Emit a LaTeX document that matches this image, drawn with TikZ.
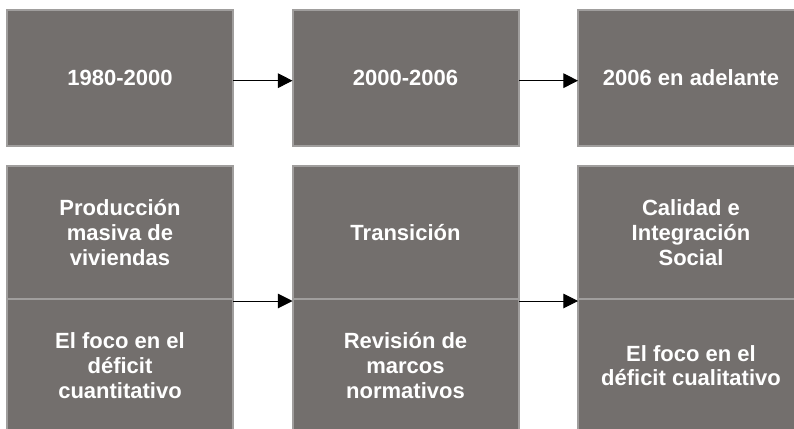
\documentclass[tikz,border=0pt]{standalone}
\usepackage{fontspec}
\setmainfont{Liberation Sans}
\usepackage{tikz}
\usetikzlibrary{arrows.meta,positioning}
\tikzset{>={Triangle[width=11pt,length=11pt]}}

\definecolor{boxgray}{RGB}{115,111,109}
\definecolor{edgegray}{RGB}{160,158,157}

\tikzset{
  period/.style={draw=edgegray, line width=1.5pt, fill=boxgray, text=white,
    font=\bfseries\fontsize{16.5}{18.5}\selectfont, align=center,
    inner sep=0pt, outer sep=0pt, minimum width=169.5pt},
  toprow/.style={period, minimum height=102pt},
  half/.style={period, minimum height=99.75pt},
  flow/.style={->, line width=0.75pt},
}

\begin{document}
\begin{tikzpicture}[x=0.75pt, y=-0.75pt]

  \clip (0,0) rectangle (794,429);

  %% periods
  \node[toprow] (y1) at (120,78)   {1980-2000};
  \node[toprow] (y2) at (405.5,78) {2000-2006};
  \node[toprow] (y3) at (691,78)   {2006 en adelante};

  %% policy focus (upper half)
  \node[half] (a1) at (120,232.5)   {Producción\\masiva de\\viviendas};
  \node[half] (a2) at (405.5,232.5) {Transición};
  \node[half] (a3) at (691,232.5)   {Calidad e\\Integración\\Social};

  %% lower half
  \node[half, below=0pt of a1] (b1) {El foco en el\\déficit\\cuantitativo};
  \node[half, below=0pt of a2] (b2) {Revisión de\\marcos\\normativos};
  \node[half, below=0pt of a3] (b3) {El foco en el\\déficit cualitativo};

  \draw[flow] ([yshift=-2pt]y1.east) -- ([yshift=-2pt]y2.west); % 1980 -> 2000
  \draw[flow] ([yshift=-2pt]y2.east) -- ([yshift=-2pt]y3.west); % 2000 -> 2006

  \draw[flow] ([yshift=-1.5pt]b1.north east) -- ([yshift=-1.5pt]b2.north west);
  \draw[flow] ([yshift=-1.5pt]b2.north east) -- ([yshift=-1.5pt]b3.north west);

\end{tikzpicture}
\end{document}
